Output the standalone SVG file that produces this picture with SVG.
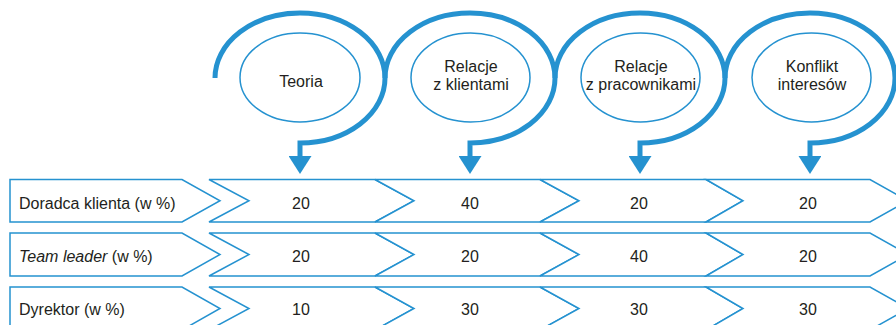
<svg xmlns="http://www.w3.org/2000/svg" width="896" height="325" viewBox="0 0 896 325">
<style>
.bg{fill:#ffffff}
.topic{fill:#ffffff;stroke:#2592d0;stroke-width:1.5}
.cell{fill:#ffffff;stroke:#2592d0;stroke-width:1.5;stroke-linejoin:miter}
.loop{fill:none;stroke:#2592d0;stroke-width:5}
text{font-family:"Liberation Sans",Arial,sans-serif;font-size:16px;fill:#231f20}
.c{text-anchor:middle}
</style>
<defs>
<marker id="ah" viewBox="0 0 18 23" refX="0" refY="11.5" markerWidth="18" markerHeight="23" markerUnits="userSpaceOnUse" orient="auto">
<path d="M0,0 L18,11.5 L0,23 Z" fill="#2592d0"/>
</marker>
</defs>
<rect class="bg" x="0" y="0" width="896" height="325"/>

<g id="connectors">
<path class="loop" marker-end="url(#ah)" d="M215,78 A85,65 0 1 1 300,143 L300,156"/>
<path class="loop" marker-end="url(#ah)" d="M385,78 A85,65 0 1 1 470,143 L470,156"/>
<path class="loop" marker-end="url(#ah)" d="M555,78 A85,65 0 1 1 640,143 L640,156"/>
<path class="loop" marker-end="url(#ah)" d="M725,78 A85,65 0 1 1 810,143 L810,156"/>
</g>

<g id="topic-teoria">
<ellipse class="topic" cx="300" cy="77.5" rx="60" ry="44.5"/>
<text class="c" x="301" y="87">Teoria</text>
</g>
<g id="topic-klienci">
<ellipse class="topic" cx="470.5" cy="77.5" rx="59.5" ry="44.5"/>
<text class="c" x="471" y="71.5">Relacje</text>
<text class="c" x="471" y="90">z klientami</text>
</g>
<g id="topic-pracownicy">
<ellipse class="topic" cx="640.5" cy="77.5" rx="59.5" ry="44.5"/>
<text class="c" x="641" y="71.5">Relacje</text>
<text class="c" x="641" y="90">z pracownikami</text>
</g>
<g id="topic-konflikt">
<ellipse class="topic" cx="811.5" cy="77.5" rx="59.5" ry="44.5"/>
<text class="c" x="812" y="71.5">Konflikt</text>
<text class="c" x="812" y="90">interesów</text>
</g>

<!-- Row 1 -->
<g id="row1-label">
<path class="cell" d="M10,179.5 H182 L220,200.75 L182,222 H10 Z"/>
<text x="19" y="209">Doradca klienta (w %)</text>
</g>
<g id="row1-teoria">
<path class="cell" d="M209,179.5 H375 L414,200.75 L375,222 H209 L249,200.75 Z"/>
<text class="c" x="301" y="209">20</text>
</g>
<g id="row1-klienci">
<path class="cell" d="M375,179.5 H540 L579,200.75 L540,222 H375 L414,200.75 Z"/>
<text class="c" x="470" y="209">40</text>
</g>
<g id="row1-pracownicy">
<path class="cell" d="M540,179.5 H706 L743,200.75 L706,222 H540 L579,200.75 Z"/>
<text class="c" x="639" y="209">20</text>
</g>
<g id="row1-konflikt">
<path class="cell" d="M706,179.5 H870 L908,200.75 L870,222 H706 L743,200.75 Z"/>
<text class="c" x="808" y="209">20</text>
</g>

<!-- Row 2 -->
<g id="row2-label">
<path class="cell" d="M10,233 H182 L220,254.5 L182,276 H10 Z"/>
<text x="19" y="262"><tspan font-style="italic">Team leader</tspan> (w %)</text>
</g>
<g id="row2-teoria">
<path class="cell" d="M209,233 H375 L414,254.5 L375,276 H209 L249,254.5 Z"/>
<text class="c" x="301" y="262">20</text>
</g>
<g id="row2-klienci">
<path class="cell" d="M375,233 H540 L579,254.5 L540,276 H375 L414,254.5 Z"/>
<text class="c" x="470" y="262">20</text>
</g>
<g id="row2-pracownicy">
<path class="cell" d="M540,233 H706 L743,254.5 L706,276 H540 L579,254.5 Z"/>
<text class="c" x="639" y="262">40</text>
</g>
<g id="row2-konflikt">
<path class="cell" d="M706,233 H870 L908,254.5 L870,276 H706 L743,254.5 Z"/>
<text class="c" x="808" y="262">20</text>
</g>

<!-- Row 3 -->
<g id="row3-label">
<path class="cell" d="M10,287 H182 L220,308.5 L182,330 H10 Z"/>
<text x="19" y="315">Dyrektor (w %)</text>
</g>
<g id="row3-teoria">
<path class="cell" d="M209,287 H375 L414,308.5 L375,330 H209 L249,308.5 Z"/>
<text class="c" x="301" y="315">10</text>
</g>
<g id="row3-klienci">
<path class="cell" d="M375,287 H540 L579,308.5 L540,330 H375 L414,308.5 Z"/>
<text class="c" x="470" y="315">30</text>
</g>
<g id="row3-pracownicy">
<path class="cell" d="M540,287 H706 L743,308.5 L706,330 H540 L579,308.5 Z"/>
<text class="c" x="639" y="315">30</text>
</g>
<g id="row3-konflikt">
<path class="cell" d="M706,287 H870 L908,308.5 L870,330 H706 L743,308.5 Z"/>
<text class="c" x="808" y="315">30</text>
</g>
</svg>
